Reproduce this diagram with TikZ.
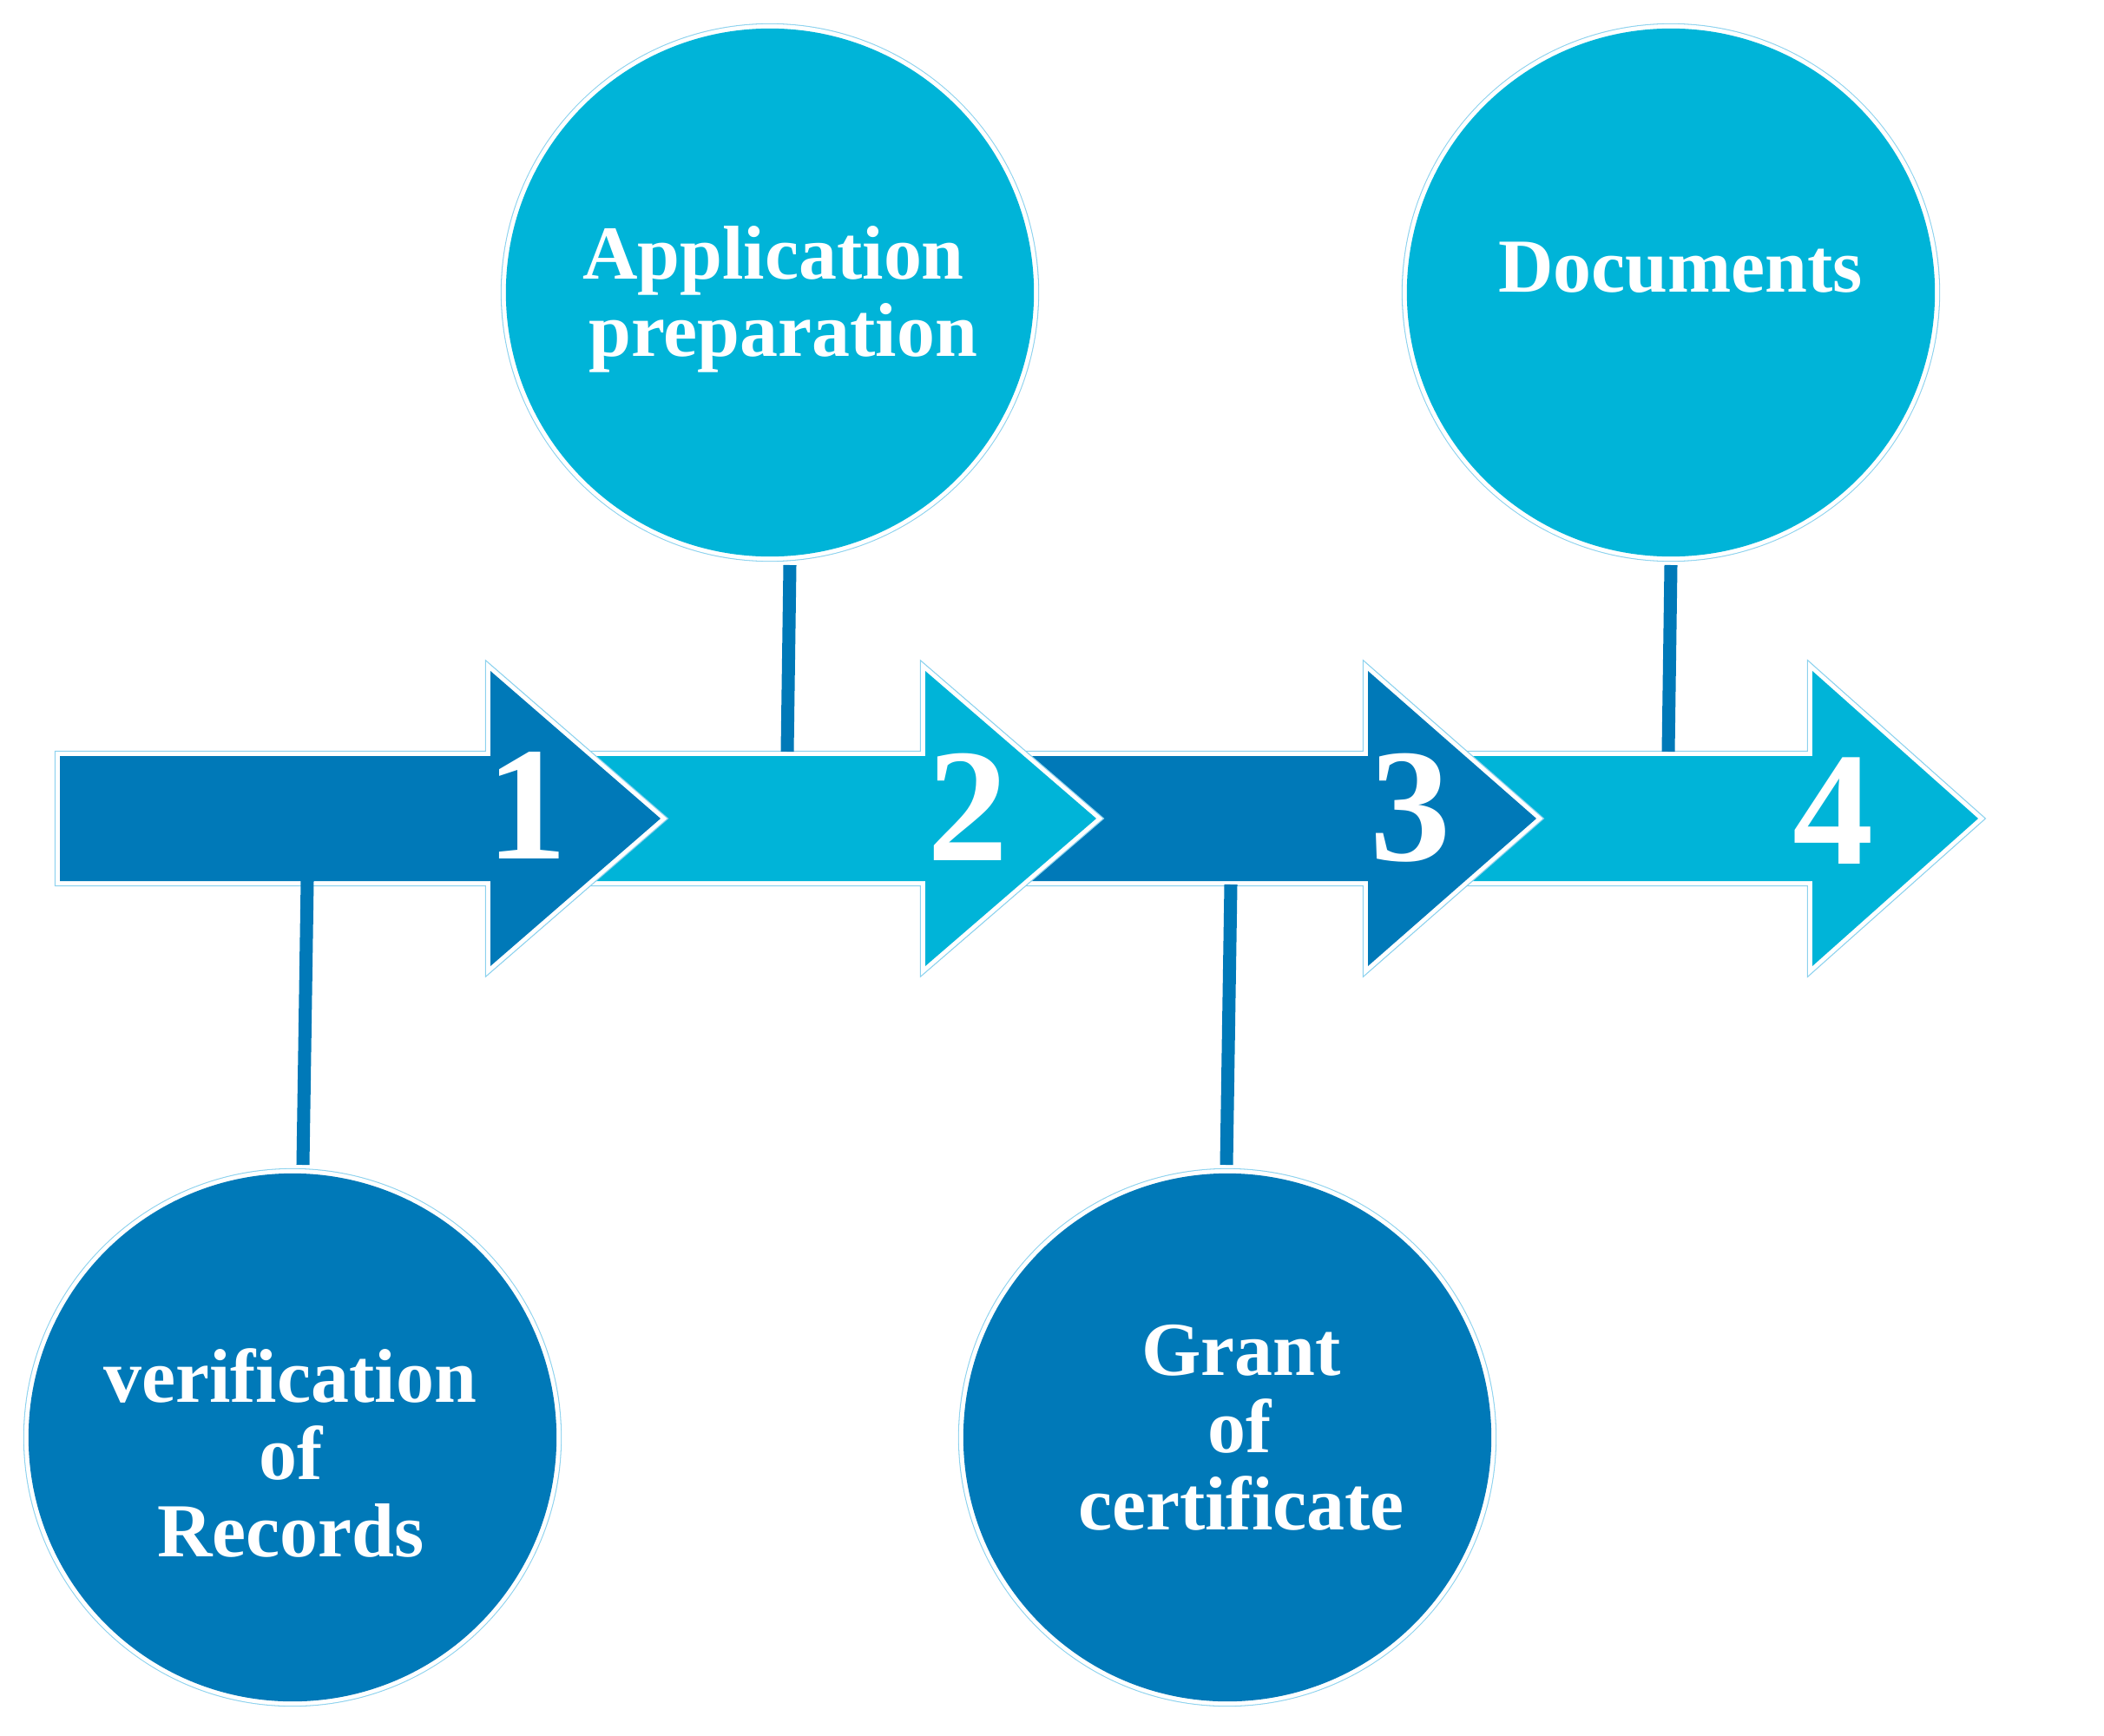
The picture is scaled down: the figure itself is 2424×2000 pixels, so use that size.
\documentclass[tikz,border=0pt]{standalone}
\usepackage{fontspec}
\setmainfont{Liberation Serif}
\usetikzlibrary{calc}
\definecolor{dkblue}{RGB}{0,121,184}
\definecolor{ltblue}{RGB}{0,180,216}
\definecolor{rimblue}{RGB}{140,210,238}
\newcommand\steparrow[4]{%
  \path[arrowbase, fill=#4] (#1,871) -- (#2,871) -- (#2,773) -- (#3,943) -- (#2,1113) -- (#2,1015) -- (#1,1015) -- cycle;}
\begin{document}
\begin{tikzpicture}[x=0.01cm, y=-0.01cm,
  arrowbase/.style={line join=miter,
    preaction={draw=rimblue, line width=3.5pt},
    preaction={draw=white, line width=2.8pt}},
  circ/.style={circle, inner sep=0pt, minimum size=6.08cm,
    preaction={draw=rimblue, line width=3.4pt},
    preaction={draw=white, line width=2.8pt}},
  conn/.style={draw=dkblue, line width=4.27pt},
  lbl/.style={text=white, font=\fontsize{25}{25}\selectfont\bfseries, anchor=base, inner sep=0pt},
  digit/.style={text=white, font=\fontsize{53}{53}\selectfont\bfseries, anchor=base, inner sep=0pt}
]
\useasboundingbox (0,0) rectangle (2424,2000);

% arrows, drawn right to left so each head lies over the next body
\steparrow{1588}{2088}{2279}{ltblue}
\steparrow{1076}{1576}{1770}{dkblue}
\steparrow{570}{1066}{1263}{ltblue}
\steparrow{69}{565}{761}{dkblue}

% circles
\node[circ, fill=ltblue] (cApp) at (887,337) {};
\node[circ, fill=ltblue] (cDoc) at (1925,337) {};
\node[circ, fill=dkblue] (cVer) at (337,1656) {};
\node[circ, fill=dkblue] (cGra) at (1414,1656) {};

% attachment points on the arrow band
\coordinate (hub1) at (907,866);
\coordinate (hub2) at (1922,866);
\coordinate (hub3) at (354,1015);
\coordinate (hub4) at (1418,1019);

% connectors
\draw[conn] ($(cApp.center)+(23,314)$) -- (hub1);
\draw[conn] ($(cDoc.center)+(0,314)$) -- (hub2);
\draw[conn] (hub3) -- ($(cVer.center)+(12,-314)$);
\draw[conn] (hub4) -- ($(cGra.center)+(-1,-314)$);

% labels
\node[lbl] (lApp1) at (891,321) {Application};
\node[lbl] (lApp2) at (902,410) {preparation};
\node[lbl] (lDoc) at (1936,337) {Documents};
\node[lbl] (lVer1) at (334,1615) {verification};
\node[lbl] (lVer2) at (335,1704) {of};
\node[lbl] (lVer3) at (335,1793) {Records};
\node[lbl] (lGra1) at (1430,1584) {Grant};
\node[lbl] (lGra2) at (1428,1673) {of};
\node[lbl] (lGra3) at (1430,1762) {certificate};

% step numbers
\node[digit] (n1) at (607,989) {1};
\node[digit] (n2) at (1115,991) {2};
\node[digit] (n3) at (1625,991) {3};
\node[digit] (n4) at (2112,995) {4};
\end{tikzpicture}
\end{document}
